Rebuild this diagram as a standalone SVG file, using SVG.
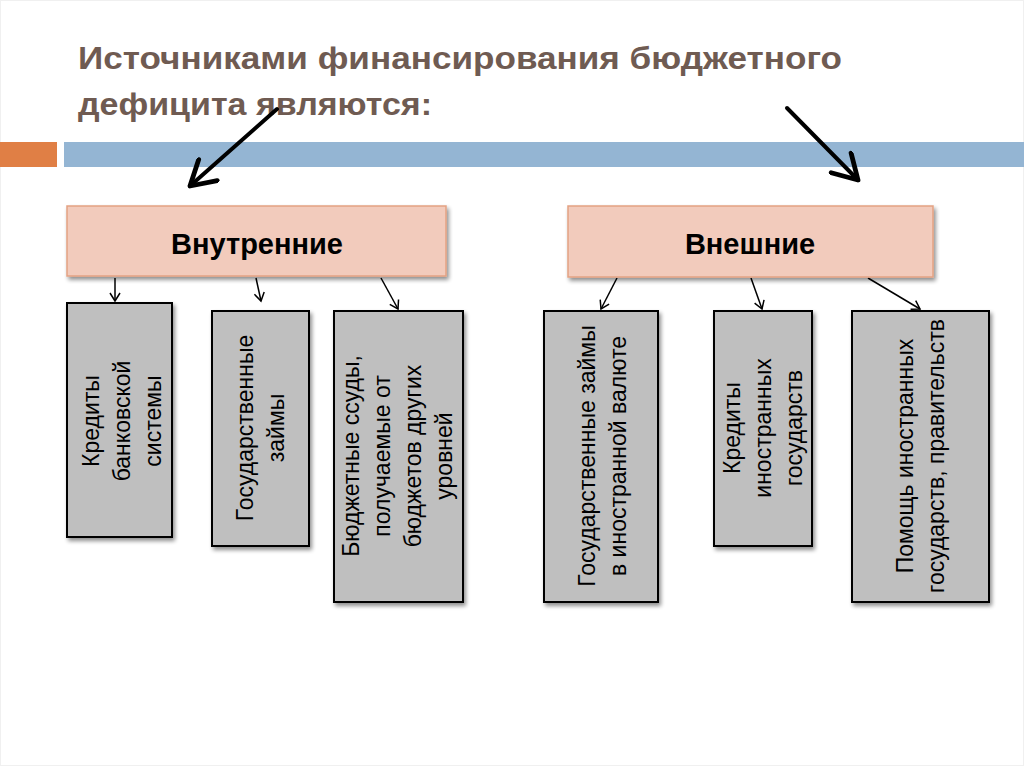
<svg xmlns="http://www.w3.org/2000/svg" width="1024" height="767" viewBox="0 0 1024 767">
<defs>
<style>
.title{font-family:"Liberation Sans",Arial,sans-serif;font-weight:bold;font-size:32px;fill:#6f5b52}
.head{fill:#f2cbbc;stroke:#e3a283;stroke-width:1.5}
.headt{font-family:"Liberation Sans",Arial,sans-serif;font-weight:bold;font-size:29px;fill:#000;text-anchor:middle}
.leaf{fill:#bfbfbf;stroke:#000;stroke-width:2}
.leaft{font-family:"Liberation Sans",Arial,sans-serif;font-size:23px;fill:#000;text-anchor:middle}
.big{stroke:#000;stroke-width:4;fill:none;stroke-linecap:round}
.thin{stroke:#000;stroke-width:1.5;fill:none}
</style>
<filter id="sh" x="-10%" y="-10%" width="130%" height="130%">
<feGaussianBlur in="SourceAlpha" stdDeviation="2"/>
<feOffset dx="2" dy="3" result="o"/>
<feComponentTransfer><feFuncA type="linear" slope="0.45"/></feComponentTransfer>
<feMerge><feMergeNode/><feMergeNode in="SourceGraphic"/></feMerge>
</filter>
<marker id="bigh" markerWidth="8" markerHeight="8" refX="7" refY="4" orient="auto" markerUnits="strokeWidth" viewBox="0 0 8 8">
<path d="M1,0.5 L7,4 L1,7.5" fill="none" stroke="#000" stroke-width="1.2" stroke-linecap="round" stroke-linejoin="round"/>
</marker>
<marker id="th" markerWidth="12" markerHeight="12" refX="10" refY="6" orient="auto" markerUnits="userSpaceOnUse" viewBox="0 0 12 12">
<path d="M2,1 L10,6 L2,11" fill="none" stroke="#000" stroke-width="1.5"/>
</marker>
</defs>
<rect x="0" y="0" width="1024" height="767" fill="#fff"/>
<rect x="0.5" y="0.5" width="1023" height="765" fill="none" stroke="#f0f0f0"/>
<g id="title">
<text class="title" x="78" y="69" textLength="764" lengthAdjust="spacingAndGlyphs">Источниками финансирования бюджетного</text>
<text class="title" x="78" y="115" textLength="354" lengthAdjust="spacingAndGlyphs">дефицита являются:</text>
</g>
<g id="bars">
<rect x="0" y="142" width="57" height="25" fill="#e07f45"/>
<rect x="64" y="142" width="960" height="25" fill="#94b5d3"/>
</g>
<g id="connectors">
<line class="big" x1="277" y1="109" x2="190" y2="186" marker-end="url(#bigh)"/>
<line class="big" x1="787" y1="108" x2="858" y2="180" marker-end="url(#bigh)"/>
<line class="thin" x1="115" y1="278" x2="115" y2="301" marker-end="url(#th)"/>
<line class="thin" x1="256" y1="278" x2="261" y2="301" marker-end="url(#th)"/>
<line class="thin" x1="381" y1="278" x2="398" y2="309" marker-end="url(#th)"/>
<line class="thin" x1="617" y1="278" x2="601" y2="309" marker-end="url(#th)"/>
<line class="thin" x1="751" y1="278" x2="762" y2="309" marker-end="url(#th)"/>
<line class="thin" x1="868" y1="278" x2="920" y2="309" marker-end="url(#th)"/>
</g>
<g id="internal">
<rect class="head" x="67" y="206" width="379" height="70" filter="url(#sh)"/>
<text class="headt" x="257" y="254">Внутренние</text>
</g>
<g id="external">
<rect class="head" x="568" y="206" width="365" height="71" filter="url(#sh)"/>
<text class="headt" x="750" y="254">Внешние</text>
</g>
<g id="leaf1">
<rect class="leaf" x="67" y="303" width="105" height="234" filter="url(#sh)"/>
<text class="leaft" transform="translate(99,421) rotate(-90)"><tspan x="0" dy="0">Кредиты</tspan><tspan x="0" dy="31">банковской</tspan><tspan x="0" dy="31">системы</tspan></text>
</g>
<g id="leaf2">
<rect class="leaf" x="212" y="311" width="97" height="235" filter="url(#sh)"/>
<text class="leaft" transform="translate(253,428) rotate(-90)"><tspan x="0" dy="0">Государственные</tspan><tspan x="0" dy="31">займы</tspan></text>
</g>
<g id="leaf3">
<rect class="leaf" x="334" y="311" width="129" height="291" filter="url(#sh)"/>
<text class="leaft" transform="translate(359,456) rotate(-90)"><tspan x="0" dy="0">Бюджетные ссуды,</tspan><tspan x="0" dy="31">получаемые от</tspan><tspan x="0" dy="31">бюджетов других</tspan><tspan x="0" dy="31">уровней</tspan></text>
</g>
<g id="leaf4">
<rect class="leaf" x="544" y="311" width="114" height="291" filter="url(#sh)"/>
<text class="leaft" transform="translate(595,456) rotate(-90)"><tspan x="0" dy="0">Государственные займы</tspan><tspan x="0" dy="31">в иностранной валюте</tspan></text>
</g>
<g id="leaf5">
<rect class="leaf" x="714" y="311" width="98" height="235" filter="url(#sh)"/>
<text class="leaft" transform="translate(740,428) rotate(-90)"><tspan x="0" dy="0">Кредиты</tspan><tspan x="0" dy="31">иностранных</tspan><tspan x="0" dy="31">государств</tspan></text>
</g>
<g id="leaf6">
<rect class="leaf" x="852" y="311" width="137" height="291" filter="url(#sh)"/>
<text class="leaft" transform="translate(913,456) rotate(-90)"><tspan x="0" dy="0">Помощь иностранных</tspan><tspan x="0" dy="31">государств, правительств</tspan></text>
</g>
</svg>
